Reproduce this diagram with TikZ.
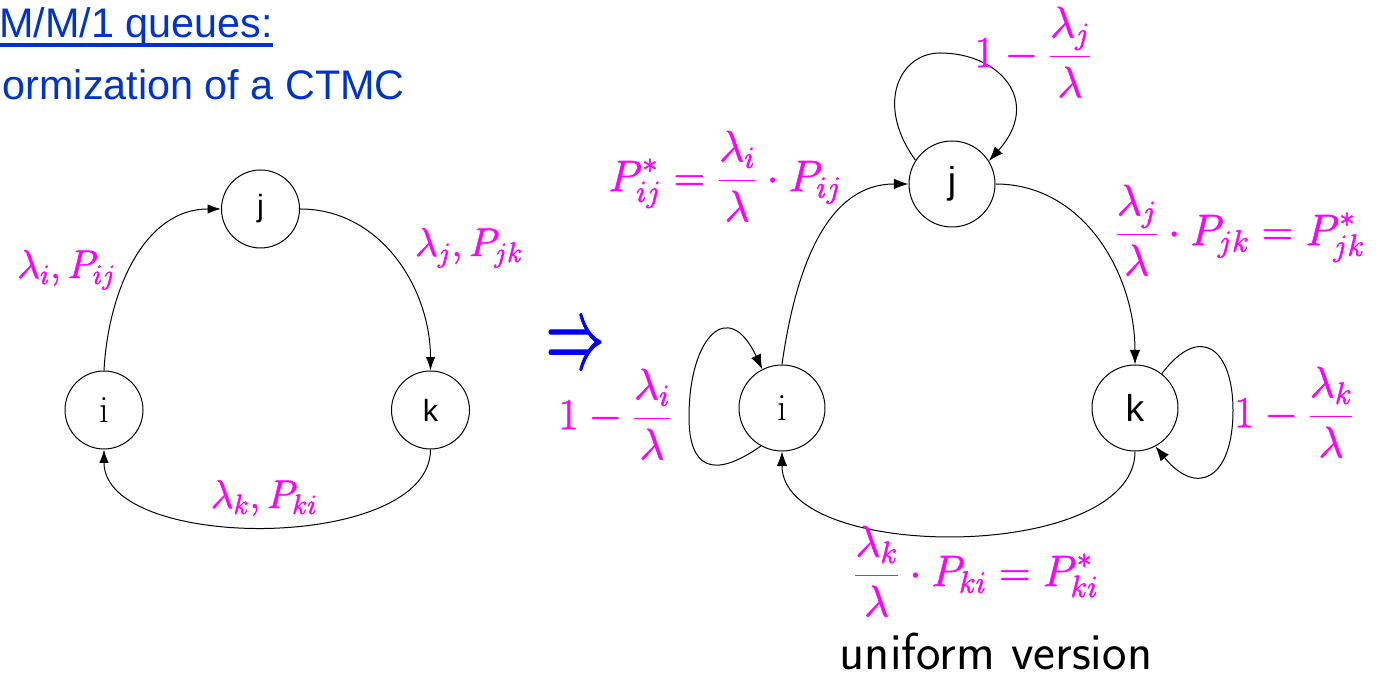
\RequirePackage{fix-cm}
\documentclass[tikz,border=0pt]{standalone}
\usepackage{fontspec}
\newfontfamily\arialf{Liberation Sans}
\usepackage{graphicx}
\usetikzlibrary{arrows.meta}
\definecolor{mag}{RGB}{255,0,255}
\definecolor{titleblue}{RGB}{0,51,204}
\definecolor{arrblue}{RGB}{0,0,255}
\newcommand{\heavytext}[2][0.4]{\special{pdf:literal direct 2 Tr #1 w}#2\special{pdf:literal direct 0 Tr}}
\begin{document}
\begin{tikzpicture}[x=0.75pt,y=0.75pt,
  lstate/.style={circle,draw,line width=0.75pt,inner sep=0pt,minimum size=58.5pt,font=\arialf\fontsize{23}{25}\selectfont},
  rstate/.style={circle,draw,line width=0.75pt,inner sep=0pt,minimum size=64.5pt,font=\arialf\fontsize{28}{30}\selectfont},
  serifi/.style={font=\rmfamily\fontsize{29}{31}\selectfont},
  larr/.style={line width=0.75pt,-{Latex[length=10pt,width=7pt]}},
  rarr/.style={line width=0.75pt,-{Latex[length=11pt,width=8pt]}},
  llab/.style={text=mag,inner sep=0pt,font=\fontsize{30}{34}\selectfont},
  rlab/.style={text=mag,inner sep=0pt,font=\fontsize{33}{39}\selectfont},
  titletext/.style={text=titleblue,inner sep=0pt,anchor=base east,font=\arialf\fontsize{31}{36}\selectfont},
]
\useasboundingbox (0,0) rectangle (1379,677);
\clip (0,0) rectangle (1379,677);

% title
\node[titletext] (t1) at (273,639) {M/M/1 queues:};
\node[titletext] (t2) at (405,577) {ormization of a CTMC};
\draw[titleblue,line width=2.4pt] ([yshift=-5.3pt]t1.base west) -- ([yshift=-5.3pt]t1.base east);

% left chain
\node[lstate] (Lj) at (260.5,468) {j};
\node[lstate,serifi] (Li) at (104,267) {i};
\node[lstate] (Lk) at (430.5,267) {k};
\draw[larr] (Li.north) to[out=87,in=180] (Lj.west);
\draw[larr] (Lj.east) to[out=0,in=90] (Lk.north);
\draw[larr] (Lk.south) to[out=-90,in=-90,looseness=0.81] (Li.south);
\node[llab,anchor=base] (l1) at (66.5,399) {\heavytext{$\lambda_i, P_{ij}$}};
\node[llab,anchor=base] (l2) at (469,421) {\heavytext{$\lambda_j, P_{jk}$}};
\node[llab,anchor=base] (l3) at (264,169) {\heavytext{$\lambda_k, P_{ki}$}};

% implication
\node[text=arrblue,inner sep=0pt] (imp) at (575,328) {\resizebox*{44pt}{28.5pt}{\heavytext[0.12]{$\Rightarrow$}}};

% right chain
\node[rstate] (Rj) at (952,493) {j};
\node[rstate,serifi] (Ri) at (782,269) {i};
\node[rstate] (Rk) at (1135,269) {k};
\draw[rarr] (Ri.north) to[out=82,in=180] (Rj.west);
\draw[rarr] (Rj.east) to[out=0,in=90] (Rk.north);
\draw[rarr] (Rk.south) to[out=-90,in=-90,looseness=0.81] (Ri.south);
\draw[rarr] (Ri.241) .. controls +(215:60) and (689,210) .. (689,260) .. controls (689,340) and +(115:80) .. (Ri.117);
\draw[rarr] (Rj.147) .. controls +(126:70) and (900,624) .. (940,624) .. controls (1000,624) and +(48:80) .. (Rj.32);
\draw[rarr] (Rk.52) .. controls +(53:65) and (1233,327) .. (1233,267) .. controls (1233,197) and +(309:65) .. (Rk.298);

\node[rlab] (r1) at (725,501) {\heavytext{$\displaystyle P^*_{ij} = \frac{\lambda_i}{\lambda}\cdot P_{ij}$}};
\node[rlab] (r2) at (1033,625) {\heavytext{$\displaystyle 1-\frac{\lambda_j}{\lambda}$}};
\node[rlab] (r3) at (1240,447) {\heavytext{$\displaystyle \frac{\lambda_j}{\lambda}\cdot P_{jk} = P^*_{jk}$}};
\node[rlab] (r4) at (1294,265) {\heavytext{$\displaystyle 1-\frac{\lambda_k}{\lambda}$}};
\node[rlab] (r5) at (615,263) {\heavytext{$\displaystyle 1-\frac{\lambda_i}{\lambda}$}};
\node[rlab] (r6) at (976,106) {\heavytext{$\displaystyle \frac{\lambda_k}{\lambda}\cdot P_{ki} = P^*_{ki}$}};

\node[anchor=base,inner sep=0pt,font=\sffamily\fontsize{39}{44}\selectfont] (uv) at (996,7) {uniform version};
\end{tikzpicture}
\end{document}
